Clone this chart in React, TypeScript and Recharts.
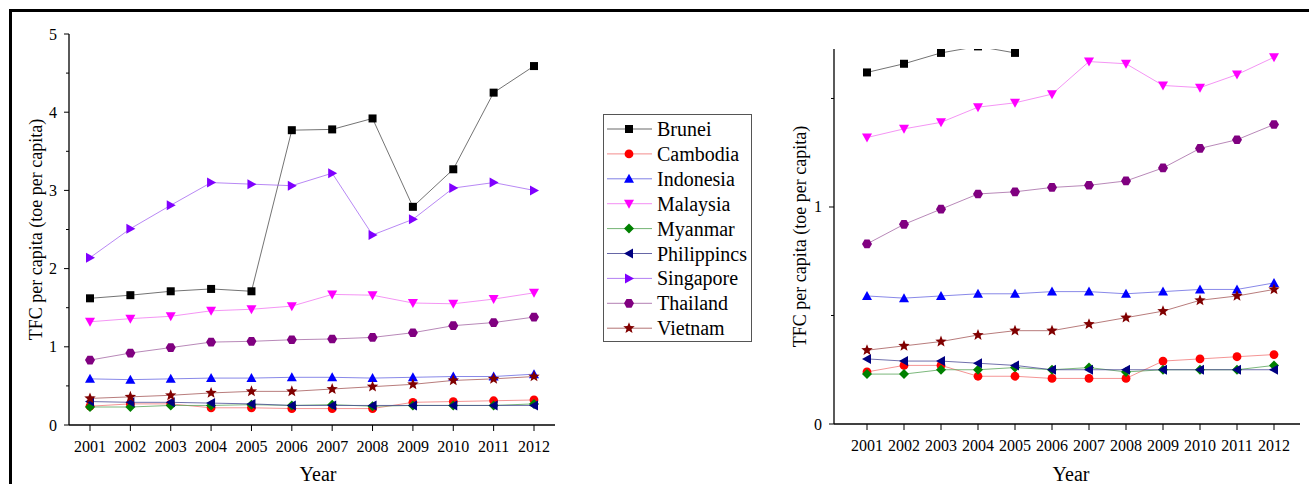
import React from 'react';
import { LineChart, Line, XAxis, YAxis } from 'recharts';

const years = ['2001', '2002', '2003', '2004', '2005', '2006', '2007', '2008', '2009', '2010', '2011', '2012'];
const brunei = [1.62, 1.66, 1.71, 1.74, 1.71, 3.77, 3.78, 3.92, 2.79, 3.27, 4.25, 4.59];
const cambodia = [0.24, 0.27, 0.27, 0.22, 0.22, 0.21, 0.21, 0.21, 0.29, 0.30, 0.31, 0.32];
const indonesia = [0.59, 0.58, 0.59, 0.60, 0.60, 0.61, 0.61, 0.60, 0.61, 0.62, 0.62, 0.65];
const malaysia = [1.32, 1.36, 1.39, 1.46, 1.48, 1.52, 1.67, 1.66, 1.56, 1.55, 1.61, 1.69];
const myanmar = [0.23, 0.23, 0.25, 0.25, 0.26, 0.25, 0.26, 0.24, 0.25, 0.25, 0.25, 0.27];
const philippines = [0.30, 0.29, 0.29, 0.28, 0.27, 0.25, 0.25, 0.25, 0.25, 0.25, 0.25, 0.25];
const singapore = [2.14, 2.51, 2.81, 3.10, 3.08, 3.06, 3.22, 2.43, 2.63, 3.03, 3.10, 3.00];
const thailand = [0.83, 0.92, 0.99, 1.06, 1.07, 1.09, 1.10, 1.12, 1.18, 1.27, 1.31, 1.38];
const vietnam = [0.34, 0.36, 0.38, 0.41, 0.43, 0.43, 0.46, 0.49, 0.52, 0.57, 0.59, 0.62];

const leftTicks = [0, 0.5, 1, 1.5, 2, 2.5, 3, 3.5, 4, 4.5, 5];
const leftMajor = [0, 1, 2, 3, 4, 5];
const rightTicks = [0, 0.5, 1, 1.5];
const rightMajor = [0, 1];

const yLabel = 'TFC per capita (toe per capita)';
const xLabel = 'Year';

type Shape = 'square' | 'circle' | 'up' | 'down' | 'diamond' | 'left' | 'right' | 'hex' | 'star';

const series: { name: string; key: string; values: number[]; color: string; line: string; shape: Shape }[] = [
  { name: 'Brunei', key: 'brunei', values: brunei, color: '#000000', line: '#444444', shape: 'square' },
  { name: 'Cambodia', key: 'cambodia', values: cambodia, color: '#ff0000', line: '#f07070', shape: 'circle' },
  { name: 'Indonesia', key: 'indonesia', values: indonesia, color: '#0000ff', line: '#6060e0', shape: 'up' },
  { name: 'Malaysia', key: 'malaysia', values: malaysia, color: '#ff00ff', line: '#f070f0', shape: 'down' },
  { name: 'Myanmar', key: 'myanmar', values: myanmar, color: '#008000', line: '#50a050', shape: 'diamond' },
  { name: 'Philippincs', key: 'philippines', values: philippines, color: '#000080', line: '#404090', shape: 'left' },
  { name: 'Singapore', key: 'singapore', values: singapore, color: '#8000ff', line: '#a060f0', shape: 'right' },
  { name: 'Thailand', key: 'thailand', values: thailand, color: '#800080', line: '#a060a0', shape: 'hex' },
  { name: 'Vietnam', key: 'vietnam', values: vietnam, color: '#800000', line: '#a05050', shape: 'star' },
];

const data = years.map((year, i) => {
  const row: Record<string, number | string> = { year };
  series.forEach((s) => {
    row[s.key] = s.values[i];
  });
  return row;
});

const FONT = "'Liberation Serif', 'Times New Roman', serif";

function MarkerShape({ cx, cy, shape, color }: { cx: number; cy: number; shape: Shape; color: string }) {
  if (cx == null || cy == null || isNaN(cx) || isNaN(cy)) return null;
  const pts = (arr: number[][]) => arr.map((p) => `${cx + p[0]},${cy + p[1]}`).join(' ');
  switch (shape) {
    case 'square':
      return <rect x={cx - 4} y={cy - 4} width={8} height={8} fill={color} />;
    case 'circle':
      return <circle cx={cx} cy={cy} r={4.4} fill={color} />;
    case 'up':
      return <polygon points={pts([[0, -5], [5, 4], [-5, 4]])} fill={color} />;
    case 'down':
      return <polygon points={pts([[-5, -4], [5, -4], [0, 5]])} fill={color} />;
    case 'diamond':
      return <polygon points={pts([[0, -5], [5, 0], [0, 5], [-5, 0]])} fill={color} />;
    case 'left':
      return <polygon points={pts([[-5, 0], [4, -5], [4, 5]])} fill={color} />;
    case 'right':
      return <polygon points={pts([[5, 0], [-4, -5], [-4, 5]])} fill={color} />;
    case 'hex': {
      const a: number[][] = [];
      for (let k = 0; k < 6; k++) {
        const ang = (Math.PI / 3) * k;
        a.push([5 * Math.cos(ang), 5 * Math.sin(ang)]);
      }
      return <polygon points={pts(a)} fill={color} />;
    }
    case 'star': {
      const a: number[][] = [];
      for (let k = 0; k < 10; k++) {
        const r = k % 2 === 0 ? 6 : 2.6;
        const ang = -Math.PI / 2 + (Math.PI / 5) * k;
        a.push([r * Math.cos(ang), r * Math.sin(ang)]);
      }
      return <polygon points={pts(a)} fill={color} />;
    }
  }
  return null;
}

const makeYTick = (majors: number[]) => (props: any) => {
  const { x, y, payload } = props;
  const v = payload.value;
  const major = majors.includes(v);
  return (
    <g>
      <line x1={x} x2={x - (major ? 5 : 3)} y1={y} y2={y} stroke="#000" strokeWidth={1} />
      {major && (
        <text x={x - 12} y={y} textAnchor="end" dominantBaseline="central" style={{ fontSize: 16, fontFamily: FONT }} fill="#000">
          {v}
        </text>
      )}
    </g>
  );
};

const XTick = (props: any) => {
  const { x, y, payload } = props;
  return (
    <g>
      <line x1={x} x2={x} y1={y} y2={y + 6} stroke="#000" strokeWidth={1} />
      <text x={x} y={y + 21} textAnchor="middle" dominantBaseline="central" style={{ fontSize: 16, fontFamily: FONT }} fill="#000">
        {payload.value}
      </text>
    </g>
  );
};

const makeYLabel = (dx: number) => (props: any) => {
  const vb = props.viewBox || {};
  const cx = vb.x + dx;
  const cy = vb.y + vb.height / 2;
  return (
    <text
      x={cx}
      y={cy}
      transform={`rotate(-90, ${cx}, ${cy})`}
      textAnchor="middle"
      dominantBaseline="central"
      style={{ fontSize: 18, fontFamily: FONT }}
      fill="#000"
    >
      {yLabel}
    </text>
  );
};

const makeXLabel = (dx: number) => (props: any) => {
  const vb = props.viewBox || {};
  const cx = vb.x + vb.width / 2 + dx;
  return (
    <text x={cx} y={481} textAnchor="middle" style={{ fontSize: 20, fontFamily: FONT }} fill="#000">
      {xLabel}
    </text>
  );
};

function renderLines() {
  return series.map((s) => (
    <Line
      key={s.key}
      dataKey={s.key}
      name={s.name}
      stroke={s.line}
      strokeWidth={1}
      strokeOpacity={0.75}
      isAnimationActive={false}
      dot={(p: any) => <MarkerShape key={`${s.key}-${p.index}`} cx={p.cx} cy={p.cy} shape={s.shape} color={s.color} />}
      activeDot={false}
    />
  ));
}

function LegendBox() {
  return (
    <div
      style={{
        position: 'absolute',
        left: 603,
        top: 114,
        width: 147,
        height: 226,
        border: '1px solid #555',
        background: '#fff',
      }}
    >
      <svg width={147} height={226}>
        {series.map((s, i) => {
          const cy = 14 + i * 24.9;
          return (
            <g key={s.key}>
              <line x1={3} x2={48} y1={cy} y2={cy} stroke={s.line} strokeWidth={1} strokeOpacity={0.8} />
              <MarkerShape cx={25} cy={cy} shape={s.shape} color={s.color} />
              <text x={53} y={cy} dominantBaseline="central" style={{ fontSize: 20, fontFamily: FONT }} fill="#000">
                {s.name}
              </text>
            </g>
          );
        })}
      </svg>
    </div>
  );
}

export default function App() {
  return (
    <div
      style={{
        position: 'absolute',
        left: 0,
        top: 0,
        width: 1309,
        height: 484,
        overflow: 'hidden',
        background: '#fff',
        fontFamily: FONT,
      }}
    >
      <div
        style={{
          position: 'absolute',
          left: 9,
          top: 9,
          width: 1400,
          height: 600,
          borderTop: '3px solid #000',
          borderLeft: '3px solid #000',
        }}
      />
      <div style={{ position: 'absolute', left: 0, top: 0 }}>
        <LineChart width={760} height={484} data={data} margin={{ top: 34, right: 205, bottom: 29, left: 29 }}>
          <XAxis
            dataKey="year"
            padding={{ left: 21, right: 21 }}
            height={30}
            tickLine={false}
            tickSize={0}
            tickMargin={0}
            tick={<XTick />}
            interval={0}
            axisLine={{ stroke: '#000', strokeWidth: 1.3 }}
            label={makeXLabel(6)}
          />
          <YAxis
            type="number"
            domain={[0, 5]}
            ticks={leftTicks}
            width={40}
            tickLine={false}
            tickSize={0}
            tickMargin={0}
            tick={makeYTick(leftMajor)}
            interval={0}
            axisLine={{ stroke: '#000', strokeWidth: 1.3 }}
            label={makeYLabel(7)}
          />
          {renderLines()}
        </LineChart>
      </div>
      <div style={{ position: 'absolute', left: 760, top: 0 }}>
        <LineChart width={549} height={484} data={data} margin={{ top: 49, right: 9, bottom: 30, left: 34 }}>
          <XAxis
            dataKey="year"
            padding={{ left: 33, right: 26 }}
            height={30}
            tickLine={false}
            tickSize={0}
            tickMargin={0}
            tick={<XTick />}
            interval={0}
            axisLine={{ stroke: '#000', strokeWidth: 1.3 }}
            label={makeXLabel(4)}
          />
          <YAxis
            type="number"
            domain={[0, 1.728]}
            allowDataOverflow
            ticks={rightTicks}
            width={40}
            tickLine={false}
            tickSize={0}
            tickMargin={0}
            tick={makeYTick(rightMajor)}
            interval={0}
            axisLine={{ stroke: '#000', strokeWidth: 1.3 }}
            label={makeYLabel(6)}
          />
          {renderLines()}
        </LineChart>
      </div>
      <LegendBox />
    </div>
  );
}
